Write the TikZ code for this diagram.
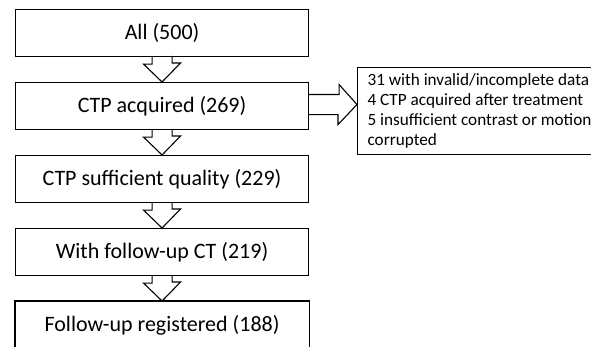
\documentclass[tikz,border=0pt]{standalone}
\usepackage{fontspec}
\setmainfont{Carlito}
\begin{document}
\begin{tikzpicture}[x=1pt,y=1pt,
  box/.style={draw, line width=1.1pt, minimum width=293pt, minimum height=47pt,
    inner sep=0pt, font=\fontsize{22}{26}\selectfont, anchor=north west},
  arr/.style={draw, line width=1.1pt, line join=miter},
  side/.style={draw, line width=1.1pt, anchor=north west, minimum height=87pt,
    minimum width=232pt, inner xsep=10pt, inner ysep=0pt, align=left,
    font=\fontsize{17.2}{20}\selectfont}]
\useasboundingbox (0,0) rectangle (591,346);
\clip (0,0) rectangle (591,346);
\node[box] (b1) at (15,337) {All (500)};
\node[box] (b2) at (15,264) {CTP acquired (269)};
\node[box] (b3) at (15,191) {CTP sufficient quality (229)};
\node[box] (b4) at (15,118) {With follow-up CT (219)};
\node[box, draw=none] (b5) at (15,45) {Follow-up registered (188)};
\draw[line width=1.1pt] ([yshift=-10pt]b5.south west) -- (b5.north west) -- (b5.north east) -- ([yshift=-10pt]b5.south east);
\node[side] (s) at (357,279) {31 with invalid/incomplete data\\ 4 CTP acquired after treatment\\ 5 insufficient contrast or motion\\ corrupted};
\foreach \a/\b in {b1/b2,b2/b3,b3/b4,b4/b5}{
  \draw[arr] ([xshift=-10pt]\a.south) -- ++(0,-7) -- ++(-8.5,0) -- (\b.north)
    -- ++(18.5,19) -- ++(-8.5,0) -- ++(0,7);
}
\path ([yshift=1.5pt]b2.east) coordinate (a0);
\coordinate (tip) at (a0 -| s.west);
\draw[arr] ([yshift=10pt]a0) -- ++(30,0) -- ++(0,10) -- (tip) -- ++(-19,-20) -- ++(0,10) -- ([yshift=-10pt]a0);
\end{tikzpicture}
\end{document}
